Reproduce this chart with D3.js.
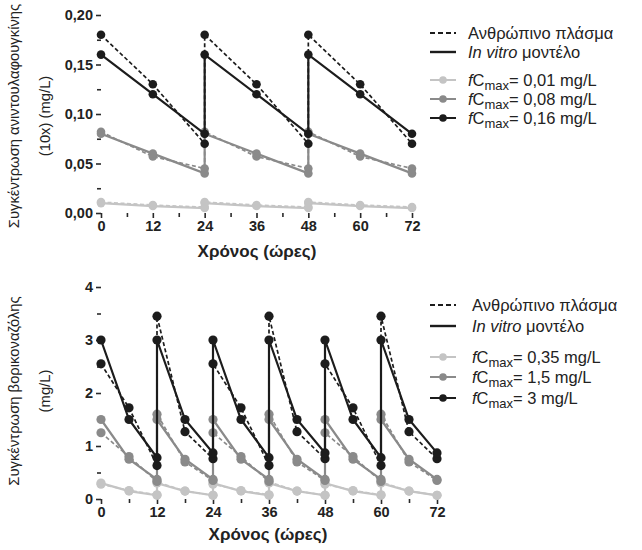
<!DOCTYPE html>
<html><head><meta charset="utf-8">
<script src="https://cdn.jsdelivr.net/npm/d3@7"></script>
<style>
body{margin:0;background:#fff;}
svg{font-family:"Liberation Sans",Arial,sans-serif;}
</style></head>
<body><svg id="c" width="642" height="550"></svg>
<script>
// ---------- Top chart: anidulafungin (10x) ----------
const aniTimes = [0,12,24,24,36,48,48,60,72];
const aniPlasmaLow  = [0.011,0.008,0.006,0.011,0.008,0.006,0.011,0.008,0.006];
const aniVitroLow   = [0.010,0.007,0.005,0.010,0.007,0.005,0.010,0.007,0.005];
const aniPlasmaMid  = [0.082,0.057,0.045,0.082,0.057,0.045,0.082,0.057,0.045];
const aniVitroMid   = [0.080,0.060,0.040,0.080,0.060,0.040,0.080,0.060,0.040];
const aniPlasmaHigh = [0.18,0.13,0.07,0.18,0.13,0.07,0.18,0.13,0.07];
const aniVitroHigh  = [0.16,0.12,0.08,0.16,0.12,0.08,0.16,0.12,0.08];
const aniYTicks = [0,0.05,0.10,0.15,0.20];
const aniYTickLabels = ["0,00","0,05","0,10","0,15","0,20"];
const aniLegend = ["0,01 mg/L","0,08 mg/L","0,16 mg/L"];

// ---------- Bottom chart: voriconazole ----------
const vorTimes = [0,6,12,12,18,24,24,30,36,36,42,48,48,54,60,60,66,72];
const vorPlasmaLow  = [0.28,0.16,0.08,0.32,0.15,0.07,0.28,0.16,0.08,0.32,0.15,0.07,0.28,0.16,0.08,0.32,0.15,0.07];
const vorVitroLow   = [0.30,0.15,0.07,0.30,0.15,0.07,0.30,0.15,0.07,0.30,0.15,0.07,0.30,0.15,0.07,0.30,0.15,0.07];
const vorPlasmaMid  = [1.25,0.80,0.33,1.60,0.70,0.35,1.25,0.80,0.33,1.60,0.70,0.35,1.25,0.80,0.33,1.60,0.70,0.35];
const vorVitroMid   = [1.50,0.75,0.37,1.50,0.75,0.37,1.50,0.75,0.37,1.50,0.75,0.37,1.50,0.75,0.37,1.50,0.75,0.37];
const vorPlasmaHigh = [2.55,1.72,0.63,3.45,1.27,0.76,2.55,1.72,0.63,3.45,1.27,0.76,2.55,1.72,0.63,3.45,1.27,0.76];
const vorVitroHigh  = [3.00,1.50,0.78,3.00,1.50,0.87,3.00,1.50,0.78,3.00,1.50,0.87,3.00,1.50,0.78,3.00,1.50,0.87];
const vorYTicks = [0,1,2,3,4];
const vorYTickLabels = ["0","1","2","3","4"];
const vorLegend = ["0,35 mg/L","1,5 mg/L","3 mg/L"];

const xTicks = [0,12,24,36,48,60,72];
const xTitle = "Χρόνος (ώρες)";
const legendPlasma = "Ανθρώπινο πλάσμα";
const legendVitro = "μοντέλο";
const colors = ["#c4c4c4","#8a8a8a","#1c1c1c"];

const svg = d3.select("#c");

function panel(cfg){
  const g = svg.append("g");
  const x = d3.scaleLinear().domain([0,72]).range(cfg.xr);
  const y = d3.scaleLinear().domain([0,cfg.ymax]).range(cfg.yr);
  const axisColor = "#2a2a2a";
  const xa = g.append("g").attr("transform",`translate(0,${cfg.yr[0]})`)
    .call(d3.axisBottom(x).tickValues(xTicks).tickSize(5).tickPadding(3).tickFormat(d3.format("d")));
  xa.append("g").call(d3.axisBottom(x).tickValues(d3.range(6,72,12)).tickSize(4).tickFormat(""));
  const ya = g.append("g").attr("transform",`translate(${cfg.xr[0]},0)`)
    .call(d3.axisLeft(y).tickValues(cfg.yTicks).tickSize(5).tickPadding(3).tickFormat((d,i)=>cfg.yLabels[i]));
  ya.append("g").call(d3.axisLeft(y).tickValues(cfg.yMinor).tickSize(4).tickFormat(""));
  [xa,ya].forEach(a=>{
    a.selectAll("path").attr("stroke",axisColor).attr("stroke-width",2);
    a.selectAll("line").attr("stroke",axisColor).attr("stroke-width",1.6);
    a.selectAll("text").attr("font-size",14.5).attr("font-weight","bold").attr("fill","#222")
      .attr("font-family","'Liberation Sans',Arial,sans-serif");
  });
  ya.selectAll("g g path").remove();
  xa.selectAll("g g path").remove();
  const line = d3.line().x(d=>x(d[0])).y(d=>y(d[1]));
  cfg.series.forEach((s,i)=>{
    const pv = cfg.times.map((t,k)=>[t,s.plasma[k]]);
    const vv = cfg.times.map((t,k)=>[t,s.vitro[k]]);
    g.append("path").datum(vv).attr("d",line).attr("fill","none")
      .attr("stroke",colors[i]).attr("stroke-width",2.2);
    g.append("path").datum(pv).attr("d",line).attr("fill","none")
      .attr("stroke",colors[i]).attr("stroke-width",1.7).attr("stroke-dasharray","4,2.5");
    [pv,vv].forEach(arr=>{
      g.selectAll(null).data(arr).enter().append("circle")
        .attr("cx",d=>x(d[0])).attr("cy",d=>y(d[1])).attr("r",cfg.r).attr("fill",colors[i]);
    });
  });
  g.append("text").attr("x",cfg.xTitlePos[0]).attr("y",cfg.xTitlePos[1]).attr("text-anchor","middle")
    .attr("font-size",17).attr("font-weight","bold").attr("fill","#222").text(xTitle);
  cfg.yTitle.forEach((t,i)=>{
    g.append("text").attr("transform",`translate(${cfg.yTitleX[i]},${cfg.yTitleY}) rotate(-90)`)
      .attr("text-anchor","middle").attr("font-size",cfg.yTitleSize).attr("fill","#222").text(t);
  });
  const L = cfg.legend;
  const fs = 16.5;
  const lg = g.append("g");
  lg.append("line").attr("x1",430).attr("x2",456).attr("y1",L.y[0]).attr("y2",L.y[0])
    .attr("stroke","#1c1c1c").attr("stroke-width",2).attr("stroke-dasharray","5,3");
  lg.append("text").attr("x",L.tx).attr("y",L.y[0]+5.5).attr("font-size",fs).attr("fill","#222").text(legendPlasma);
  lg.append("line").attr("x1",430).attr("x2",456).attr("y1",L.y[1]).attr("y2",L.y[1])
    .attr("stroke","#1c1c1c").attr("stroke-width",2.4);
  const t2 = lg.append("text").attr("x",L.tx).attr("y",L.y[1]+5.5).attr("font-size",fs).attr("fill","#222");
  t2.append("tspan").attr("font-style","italic").text("In vitro");
  t2.append("tspan").text(" "+legendVitro);
  cfg.legendLabels.forEach((lab,i)=>{
    const yy = L.y[2+i];
    lg.append("line").attr("x1",430).attr("x2",456).attr("y1",yy).attr("y2",yy)
      .attr("stroke",colors[i]).attr("stroke-width",2);
    lg.append("circle").attr("cx",443).attr("cy",yy).attr("r",3.8).attr("fill",colors[i]);
    const t = lg.append("text").attr("x",L.tx).attr("y",yy+5.5).attr("font-size",fs).attr("fill","#222");
    t.append("tspan").attr("font-style","italic").text("f");
    t.append("tspan").text("C");
    t.append("tspan").attr("font-size",13).attr("dy",4).text("max");
    t.append("tspan").attr("dy",-4).text("= "+lab);
  });
}

panel({
  xr:[101,412], yr:[213,15], ymax:0.20, yTicks:aniYTicks, yLabels:aniYTickLabels,
  yMinor:[0.025,0.075,0.125,0.175], times:aniTimes, r:4.3,
  series:[{plasma:aniPlasmaLow,vitro:aniVitroLow},{plasma:aniPlasmaMid,vitro:aniVitroMid},{plasma:aniPlasmaHigh,vitro:aniVitroHigh}],
  xTitlePos:[257,257], yTitle:["Συγκέντρωση ανιντουλαφουγκίνης","(10x) (mg/L)"], yTitleX:[19,50], yTitleY:116, yTitleSize:14.8,
  legend:{tx:468,y:[33,52,80,99,118]}, legendLabels:aniLegend
});
panel({
  xr:[101,437], yr:[499,287], ymax:4, yTicks:vorYTicks, yLabels:vorYTickLabels,
  yMinor:[0.5,1.5,2.5,3.5], times:vorTimes, r:4.6,
  series:[{plasma:vorPlasmaLow,vitro:vorVitroLow},{plasma:vorPlasmaMid,vitro:vorVitroMid},{plasma:vorPlasmaHigh,vitro:vorVitroHigh}],
  xTitlePos:[268,540], yTitle:["Συγκέντρωση βορικοναζόλης","(mg/L)"], yTitleX:[19,50], yTitleY:391, yTitleSize:14.8,
  legend:{tx:472,y:[305,326,357,377,398]}, legendLabels:vorLegend
});
</script></body></html>
